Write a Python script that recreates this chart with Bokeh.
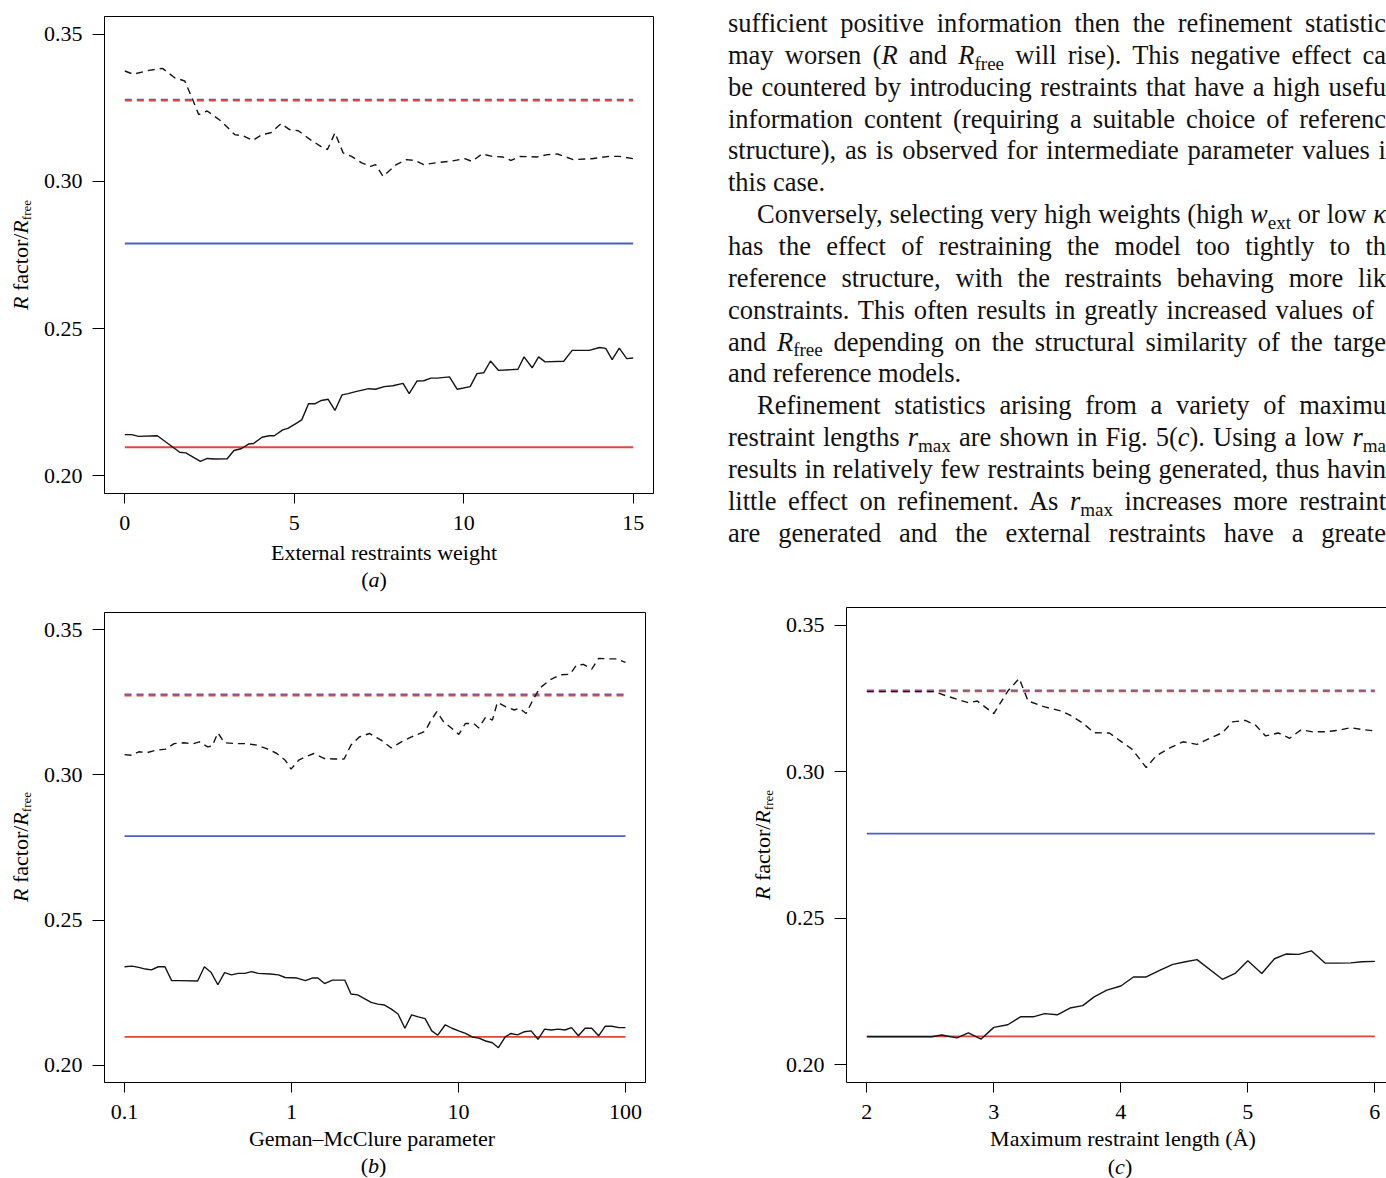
from bokeh.plotting import figure
from bokeh.models import (Range1d, FixedTicker, PrintfTickFormatter, CustomJSTickFormatter,
                          Div, LinearAxis)
from bokeh.layouts import row, column
from bokeh.embed import file_html
from bokeh.resources import INLINE

# ---------------- data ----------------
# reference (unrestrained) values, drawn as horizontal lines
ref_r = 0.2097          # red solid
ref_rfree_red = 0.3274  # red dashed
ref_rfree_blue = 0.3278 # blue dashed
ref_blue = 0.2789       # blue solid

# (a) external restraints weight
wext_rfree = [0, 0.25, 0.71, 1.11, 1.47, 1.77, 1.98, 2.18, 2.43, 2.84,
              3.24, 3.50, 3.77, 4.05, 4.31, 4.61, 4.86, 5.12, 5.47, 5.78,
              5.98, 6.20, 6.44, 6.69, 6.99, 7.25, 7.40, 7.62, 8.01, 8.31,
              8.56, 8.82, 9.17, 9.58, 10.03, 10.24, 10.54, 10.84, 11.15, 11.40,
              11.66, 12.16, 12.47, 12.77, 13.23, 13.78, 14.29, 14.59, 15.0]
rfree_a = [0.3375, 0.3364, 0.3377, 0.3384, 0.3352, 0.3341, 0.3284, 0.3227, 0.3239, 0.3205,
           0.3159, 0.3154, 0.3139, 0.3159, 0.3165, 0.3196, 0.3176, 0.3172, 0.3142, 0.3119,
           0.3108, 0.3165, 0.3097, 0.3085, 0.3063, 0.3051, 0.3057, 0.3017, 0.3057, 0.3074,
           0.3071, 0.3057, 0.3063, 0.3068, 0.3077, 0.3068, 0.3093, 0.3085, 0.3083, 0.3071,
           0.3085, 0.3083, 0.3091, 0.3093, 0.3074, 0.3077, 0.3085, 0.3085, 0.3077]
wext_r = [0, 0.2, 0.41, 0.96, 1.62, 1.80, 2.23, 2.43, 2.64, 3.02,
          3.22, 3.43, 3.65, 3.80, 4.05, 4.26, 4.41, 4.66, 4.81, 5.07,
          5.22, 5.42, 5.62, 5.80, 6.00, 6.20, 6.41, 6.59, 6.84, 7.20,
          7.40, 7.65, 7.91, 8.21, 8.39, 8.62, 8.82, 9.03, 9.22, 9.58,
          9.81, 10.19, 10.39, 10.59, 10.79, 11.03, 11.60, 11.78, 12.02, 12.21,
          12.40, 12.95, 13.20, 13.70, 14.01, 14.19, 14.38, 14.59, 14.81, 15.0]
r_a = [0.2140, 0.2140, 0.2134, 0.2136, 0.2080, 0.2078, 0.2049, 0.2059, 0.2057, 0.2058,
       0.2086, 0.2092, 0.2108, 0.2110, 0.2131, 0.2136, 0.2136, 0.2156, 0.2161, 0.2179,
       0.2190, 0.2245, 0.2245, 0.2256, 0.2260, 0.2222, 0.2275, 0.2279, 0.2287, 0.2296,
       0.2294, 0.2303, 0.2306, 0.2314, 0.2279, 0.2322, 0.2323, 0.2332, 0.2332, 0.2336,
       0.2294, 0.2303, 0.2347, 0.2350, 0.2390, 0.2358, 0.2362, 0.2404, 0.2367, 0.2404,
       0.2387, 0.2389, 0.2426, 0.2426, 0.2436, 0.2433, 0.2395, 0.2434, 0.2398, 0.2400]

# (b) Geman-McClure parameter, read as decade positions (log10) on the log axis
gm_exp_rfree = [-1.000, -0.956, -0.915, -0.865, -0.814, -0.754, -0.703, -0.643, -0.592, -0.552,
                -0.502, -0.475, -0.441, -0.401, -0.330, -0.270, -0.209, -0.149, -0.088, -0.038,
                -0.003, 0.043, 0.083, 0.134, 0.194, 0.255, 0.315, 0.356, 0.406, 0.467,
                0.537, 0.598, 0.658, 0.719, 0.800, 0.830, 0.870, 0.911, 0.961, 1.002,
                1.042, 1.092, 1.122, 1.163, 1.203, 1.233, 1.284, 1.334, 1.364, 1.405,
                1.445, 1.486, 1.546, 1.607, 1.667, 1.707, 1.748, 1.798, 1.839, 1.899,
                1.950, 2.000]
rfree_b = [0.3070, 0.3068, 0.3080, 0.3077, 0.3085, 0.3089, 0.3108, 0.3111, 0.3107, 0.3114,
           0.3097, 0.3100, 0.3145, 0.3111, 0.3108, 0.3108, 0.3103, 0.3091, 0.3074, 0.3051,
           0.3020, 0.3051, 0.3062, 0.3074, 0.3057, 0.3055, 0.3055, 0.3103, 0.3131, 0.3143,
           0.3120, 0.3093, 0.3114, 0.3131, 0.3151, 0.3183, 0.3218, 0.3183, 0.3160, 0.3140,
           0.3178, 0.3177, 0.3162, 0.3200, 0.3189, 0.3250, 0.3235, 0.3224, 0.3230, 0.3212,
           0.3258, 0.3299, 0.3327, 0.3345, 0.3347, 0.3379, 0.3381, 0.3365, 0.3402, 0.3400,
           0.3400, 0.3388]
gm_exp_r = [-1.000, -0.956, -0.915, -0.875, -0.839, -0.798, -0.758, -0.718, -0.673, -0.562,
            -0.522, -0.481, -0.441, -0.401, -0.360, -0.320, -0.280, -0.239, -0.199, -0.128,
            -0.078, -0.038, 0.033, 0.083, 0.124, 0.158, 0.198, 0.245, 0.319, 0.356,
            0.396, 0.477, 0.517, 0.557, 0.598, 0.638, 0.679, 0.719, 0.759, 0.800,
            0.840, 0.876, 0.921, 0.961, 1.001, 1.042, 1.082, 1.122, 1.163, 1.203,
            1.239, 1.280, 1.314, 1.354, 1.395, 1.435, 1.476, 1.516, 1.556, 1.597,
            1.637, 1.677, 1.718, 1.758, 1.798, 1.839, 1.879, 1.919, 1.960, 2.000]
r_b = [0.2339, 0.2341, 0.2337, 0.2331, 0.2328, 0.2339, 0.2339, 0.2291, 0.2291, 0.2290,
       0.2339, 0.2319, 0.2277, 0.2319, 0.2311, 0.2316, 0.2316, 0.2322, 0.2316, 0.2314,
       0.2311, 0.2302, 0.2300, 0.2291, 0.2300, 0.2300, 0.2281, 0.2293, 0.2293, 0.2245,
       0.2242, 0.2216, 0.2210, 0.2207, 0.2193, 0.2176, 0.2127, 0.2173, 0.2166, 0.2160,
       0.2118, 0.2103, 0.2139, 0.2127, 0.2118, 0.2109, 0.2097, 0.2093, 0.2083, 0.2077,
       0.2060, 0.2097, 0.2109, 0.2104, 0.2115, 0.2118, 0.2089, 0.2124, 0.2121, 0.2124,
       0.2121, 0.2129, 0.2101, 0.2127, 0.2127, 0.2101, 0.2134, 0.2134, 0.2129, 0.2129]
gm_rfree = [10 ** e for e in gm_exp_rfree]
gm_r = [10 ** e for e in gm_exp_r]

# (c) maximum restraint length (Angstrom)
rmax_rfree = [2.00, 2.53, 2.63, 2.80, 2.87, 3.00, 3.11, 3.20, 3.27, 3.40,
              3.53, 3.60, 3.70, 3.79, 3.91, 3.99, 4.09, 4.20, 4.28, 4.39,
              4.49, 4.60, 4.70, 4.80, 4.88, 4.98, 5.06, 5.14, 5.24, 5.33,
              5.42, 5.51, 5.61, 5.71, 5.81, 5.90, 6.00]
rfree_c = [0.3273, 0.3273, 0.3258, 0.3235, 0.3241, 0.3198, 0.3275, 0.3318, 0.3241, 0.3221,
           0.3207, 0.3193, 0.3166, 0.3133, 0.3132, 0.3107, 0.3076, 0.3014, 0.3055, 0.3082,
           0.3102, 0.3093, 0.3114, 0.3133, 0.3170, 0.3175, 0.3159, 0.3122, 0.3132, 0.3114,
           0.3143, 0.3136, 0.3136, 0.3141, 0.3150, 0.3144, 0.3139]
rmax_r = [2.00, 2.51, 2.59, 2.71, 2.80, 2.90, 3.00, 3.11, 3.21, 3.31,
          3.40, 3.50, 3.60, 3.70, 3.79, 3.89, 4.00, 4.10, 4.20, 4.31,
          4.41, 4.51, 4.60, 4.80, 4.90, 5.00, 5.11, 5.21, 5.30, 5.40,
          5.50, 5.61, 5.71, 5.81, 5.90, 6.00]
r_c = [0.2096, 0.2096, 0.2102, 0.2092, 0.2109, 0.2088, 0.2128, 0.2137, 0.2164, 0.2164,
       0.2175, 0.2171, 0.2194, 0.2202, 0.2232, 0.2255, 0.2269, 0.2300, 0.2300, 0.2323,
       0.2343, 0.2352, 0.2359, 0.2292, 0.2312, 0.2355, 0.2312, 0.2362, 0.2378, 0.2377,
       0.2389, 0.2347, 0.2347, 0.2348, 0.2352, 0.2353]

y_ticks = [0.20, 0.25, 0.30, 0.35]
ticks_a = [0, 5, 10, 15]
ticks_b = [0.1, 1, 10, 100]
ticks_c = [2, 3, 4, 5, 6]

x_title_a = "External restraints weight"
x_title_b = "Geman\u2013McClure parameter"
x_title_c = "Maximum restraint length (\u00c5)"

# ---------------- styling ----------------
FONT = "Liberation Serif"
RED = "#e2463d"
BLUE = "#4a5fc6"
INK = "#141414"
Y_LO, Y_HI = 0.194, 0.356


def make_panel(width, height, x_range, x_type, left, right, top, bottom, xticks, outline=True):
    p = figure(width=width, height=height, x_range=x_range, y_range=Range1d(Y_LO, Y_HI),
               x_axis_type=x_type, output_backend="svg", toolbar_location=None,
               min_border_left=left, min_border_right=right,
               min_border_top=top, min_border_bottom=bottom)
    p.grid.visible = False
    p.background_fill_color = "white"
    p.border_fill_color = "white"
    p.outline_line_color = "black" if outline else None
    p.outline_line_width = 1
    for ax in (p.xaxis[0], p.yaxis[0]):
        ax.axis_line_color = "black"
        ax.axis_line_width = 1
        ax.major_tick_line_color = "black"
        ax.major_tick_line_width = 1
        ax.major_tick_in = 0
        ax.minor_tick_in = 0
        ax.minor_tick_out = 0
        ax.major_label_text_font = FONT
        ax.major_label_text_font_size = "22px"
        ax.major_label_text_color = "black"
    xa, ya = p.xaxis[0], p.yaxis[0]
    xa.ticker = FixedTicker(ticks=xticks)
    xa.major_tick_out = 10
    xa.major_label_standoff = 12
    ya.ticker = FixedTicker(ticks=y_ticks)
    ya.formatter = PrintfTickFormatter(format="%.2f")
    ya.major_tick_out = 12
    ya.major_label_standoff = 10
    if x_type == "log":
        xa.formatter = CustomJSTickFormatter(code="return String(Number(tick.toPrecision(6)));")
    return p


def draw_refs(p, x0, x1):
    xs = [x0, x1]
    p.line(xs, [ref_blue, ref_blue], line_color=BLUE, line_width=1.8)
    p.line(xs, [ref_r, ref_r], line_color=RED, line_width=1.8)
    p.line(xs, [ref_rfree_blue, ref_rfree_blue], line_color=BLUE, line_width=1.5,
           line_dash="7 5")
    p.line(xs, [ref_rfree_red, ref_rfree_red], line_color=RED, line_width=1.8,
           line_dash="7 5")


BASE = "font-family:'Liberation Serif',serif;color:#000;"


def y_title_div(width, height, cx, cy):
    html = ('<div style="position:relative;width:%dpx;height:%dpx;%s">'
            '<div style="position:absolute;left:%.1fpx;top:%.1fpx;'
            'transform:translate(-50%%,-50%%) rotate(-90deg);white-space:nowrap;'
            'font-size:22px;line-height:26px;">'
            '<i>R</i> factor/<i>R</i><span style="font-size:13px;position:relative;top:3px;">'
            'free</span></div></div>') % (width, height, BASE, cx, cy)
    return Div(text=html, width=width, height=height, margin=0,
               styles={"overflow": "visible"})


def x_title_div(width, height, title, tx, ty, letter, cx, cy):
    html = ('<div style="position:relative;width:%dpx;height:%dpx;%s font-size:22px;">'
            '<div style="position:absolute;left:%.1fpx;top:%.1fpx;transform:translateX(-50%%);'
            'white-space:nowrap;line-height:22px;">%s</div>'
            '<div style="position:absolute;left:%.1fpx;top:%.1fpx;transform:translateX(-50%%);'
            'white-space:nowrap;line-height:22px;">(<i>%s</i>)</div></div>'
            ) % (width, height, BASE, tx, ty - 12.4, title, cx, cy - 12.4, letter)
    return Div(text=html, width=width, height=height, margin=0,
               styles={"overflow": "visible"})


# ---------------- panel (a) ----------------
pa = make_panel(660, 541, Range1d(-0.6, 15.6), "linear", 63, 47, 16, 48, ticks_a)
draw_refs(pa, wext_r[0], wext_r[-1])
pa.line(wext_r, r_a, line_color=INK, line_width=1.4)
pa.line(wext_rfree, rfree_a, line_color=INK, line_width=1.4, line_dash="7 5")
ya_div = y_title_div(40, 541, 22, 254.5)
xa_div = x_title_div(700, 57, x_title_a, 384, 13, "a", 374, 40)

# ---------------- panel (b) ----------------
pb = make_panel(660, 532, Range1d(0.07586, 131.8), "log", 63, 55, 14, 48, ticks_b)
draw_refs(pb, gm_r[0], gm_r[-1])
pb.line(gm_r, r_b, line_color=INK, line_width=1.4)
pb.line(gm_rfree, rfree_b, line_color=INK, line_width=1.4, line_dash="7 5")
yb_div = y_title_div(40, 532, 22, 249)
xb_div = x_title_div(700, 48, x_title_b, 372, 10, "b", 373.5, 37)

# ---------------- panel (c) (cut at the right page edge) ----------------
pc = make_panel(606, 540, Range1d(1.84, 6.092), "linear", 66, 0, 17, 48, ticks_c,
                outline=False)
top_axis = LinearAxis(ticker=FixedTicker(ticks=[]), major_label_text_font_size="0px",
                      axis_line_color="black", axis_line_width=1, major_tick_out=0,
                      major_tick_in=0, minor_tick_out=0, minor_tick_in=0,
                      major_label_standoff=0)
pc.add_layout(top_axis, "above")
draw_refs(pc, rmax_r[0], rmax_r[-1])
pc.line(rmax_r, r_c, line_color=INK, line_width=1.4)
pc.line(rmax_rfree, rfree_c, line_color=INK, line_width=1.4, line_dash="7 5")
yc_div = y_title_div(80, 540, 63.5, 254.5)
xc_div = x_title_div(686, 48, x_title_c, 423, 10, "c", 420, 38)

# ---------------- body text (journal page, cut at the right edge) ----------------
def sub(s):
    return ('<span style="font-size:0.72em;position:relative;top:0.3em;'
            'line-height:0">%s</span>' % s)

# (indent, justify, right edge in px from column start, html)
text_lines = [
    (False, True, 658, "sufficient positive information then the refinement statistic"),
    (False, True, 658, "may worsen (<i>R</i> and <i>R</i>" + sub("free") + " will rise). This negative effect ca"),
    (False, True, 658, "be countered by introducing restraints that have a high usefu"),
    (False, True, 658, "information content (requiring a suitable choice of referenc"),
    (False, True, 658, "structure), as is observed for intermediate parameter values i"),
    (False, False, 658, "this case."),
    (True, True, 658, "Conversely, selecting very high weights (high <i>w</i>" + sub("ext") + " or low <i>\u03ba</i>"),
    (False, True, 658, "has the effect of restraining the model too tightly to th"),
    (False, True, 658, "reference structure, with the restraints behaving more lik"),
    (False, True, 646, "constraints. This often results in greatly increased values of"),
    (False, True, 658, "and <i>R</i>" + sub("free") + " depending on the structural similarity of the targe"),
    (False, False, 658, "and reference models."),
    (True, True, 658, "Refinement statistics arising from a variety of maximu"),
    (False, True, 658, "restraint lengths <i>r</i>" + sub("max") + " are shown in Fig. 5(<i>c</i>). Using a low <i>r</i>" + sub("ma")),
    (False, True, 658, "results in relatively few restraints being generated, thus havin"),
    (False, True, 658, "little effect on refinement. As <i>r</i>" + sub("max") + " increases more restraint"),
    (False, True, 658, "are generated and the external restraints have a greate"),
]

parts = ['<div style="position:relative;width:686px;height:590px;overflow:hidden;%s'
         'font-size:26.5px;color:#111;">' % BASE]
for i, (indent, justify, right, html) in enumerate(text_lines):
    left = 28 + (29 if indent else 0)
    width = right - (29 if indent else 0)
    top = 8 + i * 31.85
    align = ("text-align:justify;text-align-last:justify;" if justify else "text-align:left;")
    parts.append('<div style="position:absolute;left:%dpx;top:%.1fpx;width:%dpx;'
                 'white-space:nowrap;line-height:31.8px;%s">%s</div>'
                 % (left, top, width, align, html))
parts.append("</div>")
text_div = Div(text="".join(parts), width=686, height=590, margin=0)

left_col = column(row(ya_div, pa), xa_div, row(yb_div, pb), xb_div)
right_col = column(text_div, row(yc_div, pc), xc_div)
layout = row(left_col, right_col)
open("out.html", "w").write(file_html(layout, INLINE, title="R factor / Rfree"))
